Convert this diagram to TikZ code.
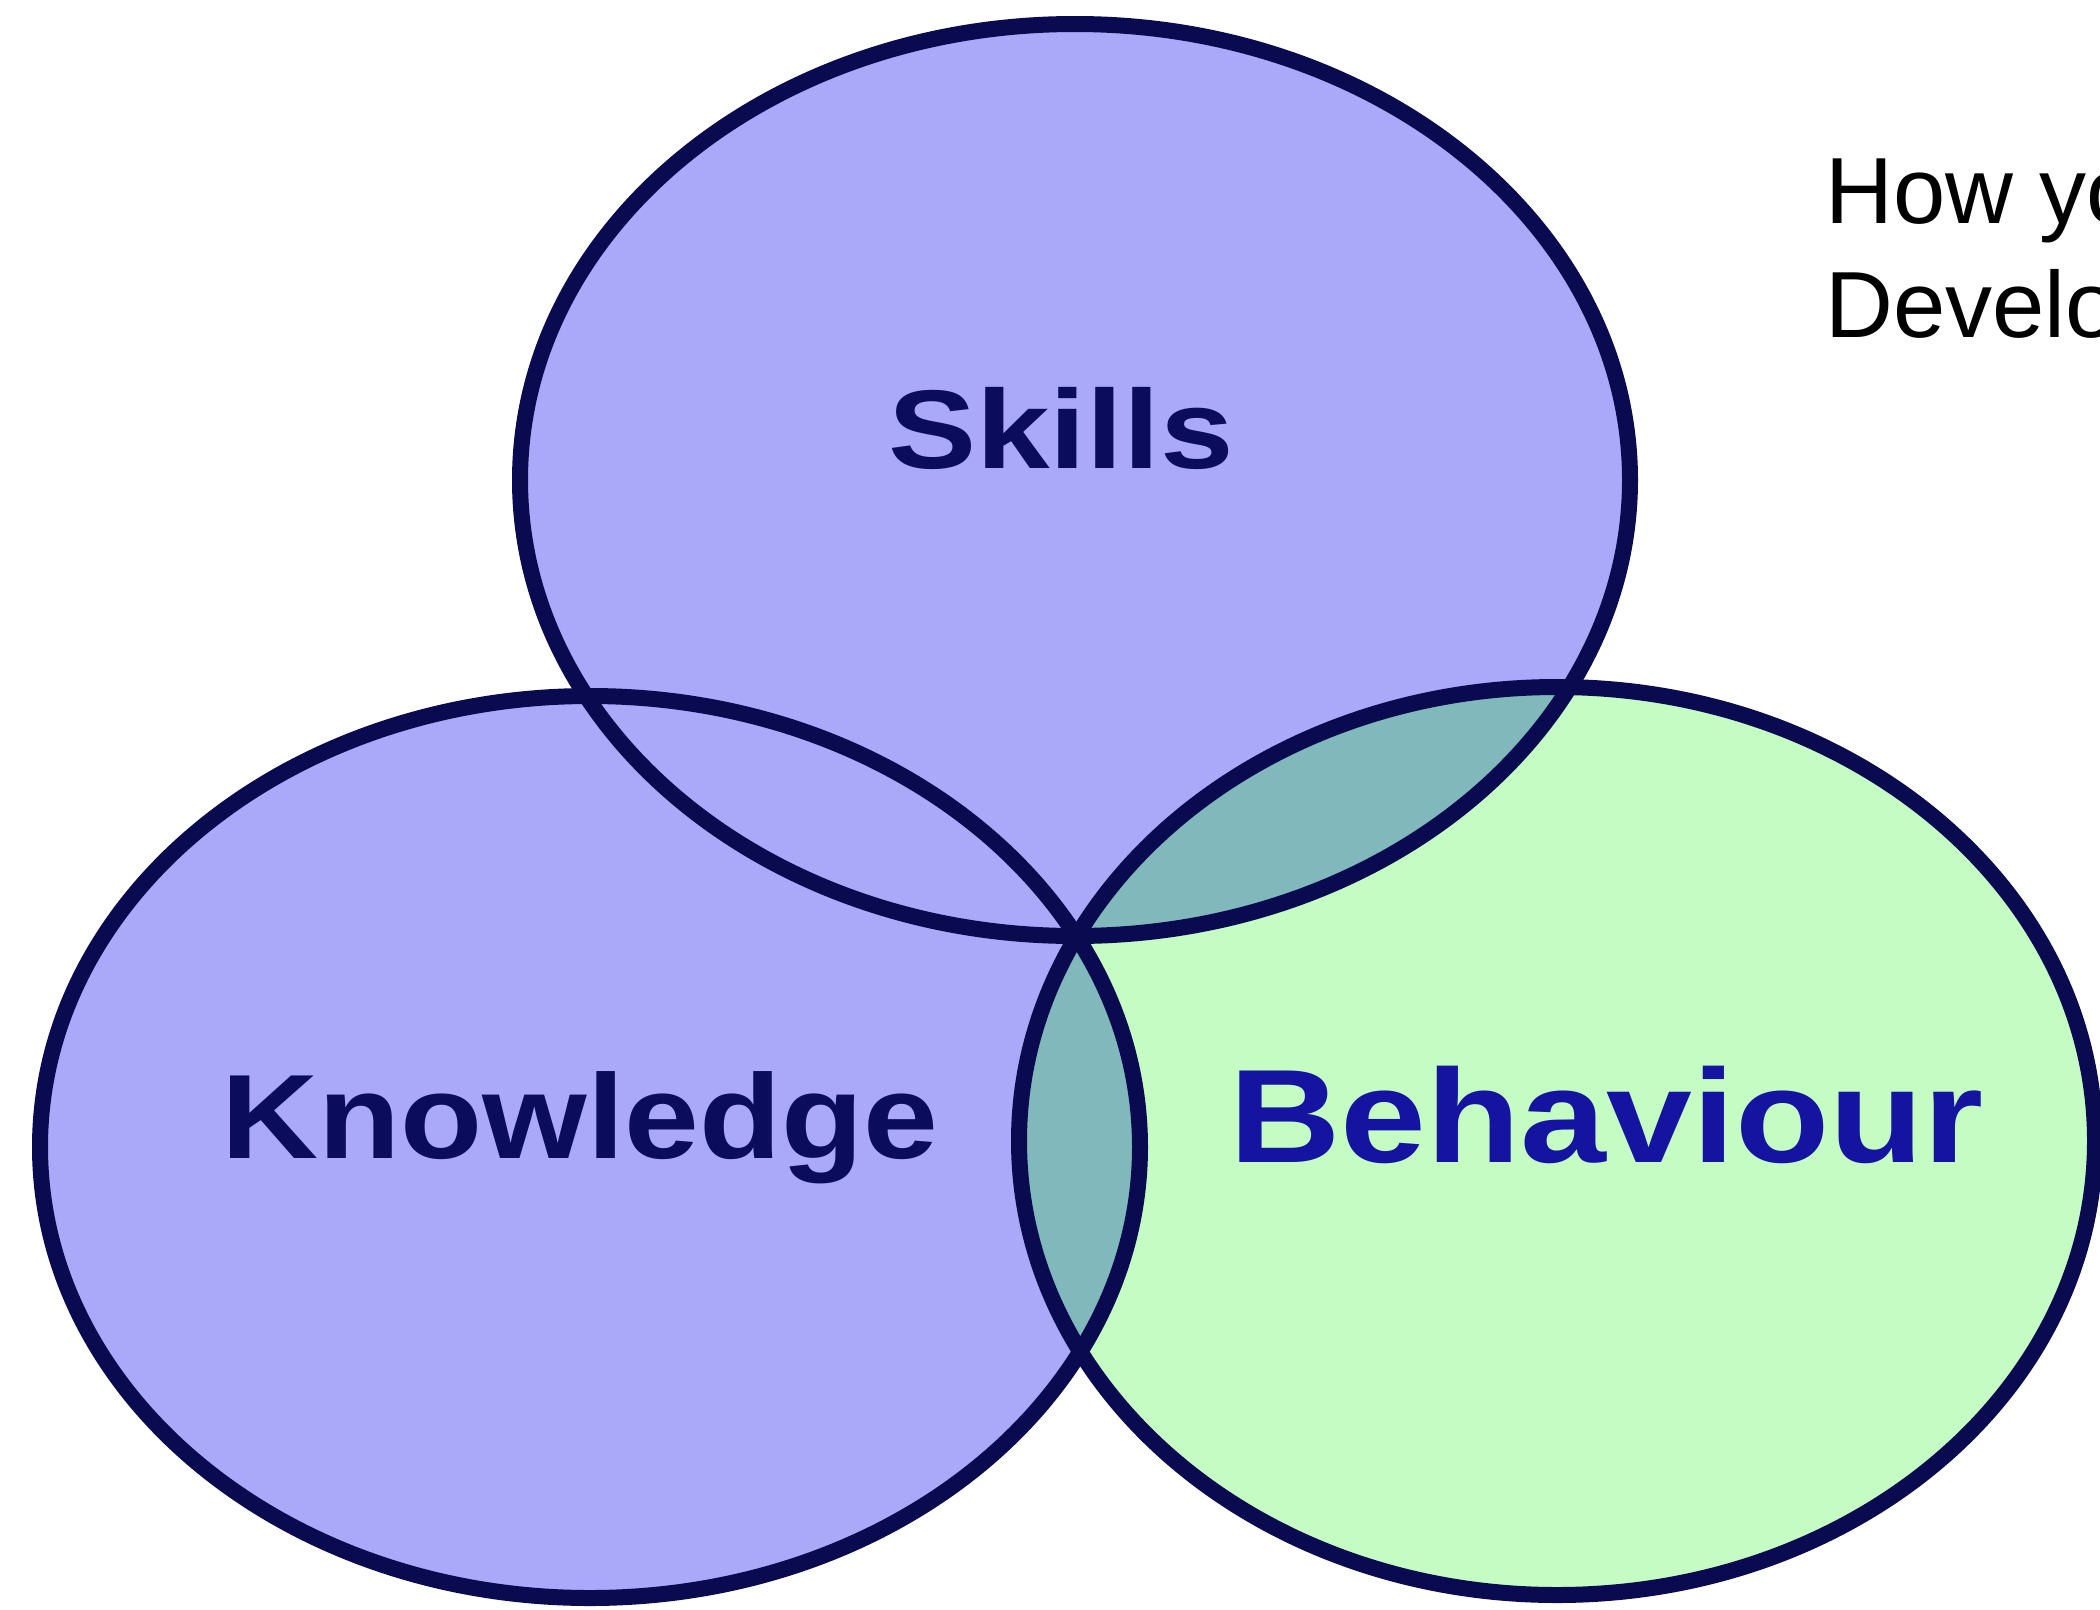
\documentclass[tikz,border=0pt]{standalone}
\usepackage{fontspec}
\setmainfont{Liberation Sans}
\definecolor{purp}{HTML}{AAA8F8}
\definecolor{lgreen}{HTML}{C4FCC4}
\definecolor{tealmix}{HTML}{80B8BC}
\definecolor{outl}{HTML}{0A0A50}
\definecolor{navytext}{HTML}{0C0C5C}
\definecolor{bluetext}{HTML}{1414A0}
\begin{document}
\begin{tikzpicture}[x=1pt,y=-1pt,
  outline/.style={draw=outl, line width=16pt},
  vlabel/.style={inner sep=0pt, anchor=base west},
  titletext/.style={inner sep=0pt, anchor=base west, text=black, font={\fontsize{94}{110}\selectfont}}]
\useasboundingbox (0,0) rectangle (2100,1609);
\clip (0,0) rectangle (2100,1609);
\fill[white] (0,0) rectangle (2100,1609);
% fills
\fill[purp] (1075,480) ellipse [x radius=555, y radius=456];
\fill[purp] (590,1147) ellipse [x radius=550, y radius=451];
\fill[lgreen] (1557,1141) ellipse [x radius=538, y radius=454];
\begin{scope}
  \clip (1557,1141) ellipse [x radius=538, y radius=454];
  \fill[tealmix] (1075,480) ellipse [x radius=555, y radius=456];
  \fill[tealmix] (590,1147) ellipse [x radius=550, y radius=451];
\end{scope}
% outlines
\draw[outline] (1075,480) ellipse [x radius=555, y radius=456];
\draw[outline] (590,1147) ellipse [x radius=550, y radius=451];
\draw[outline] (1557,1141) ellipse [x radius=538, y radius=454];
% labels
\node[vlabel, xscale=1.18, text=navytext, font={\fontsize{112}{112}\selectfont\bfseries}] (skills) at (888,468) {Skills};
\node[vlabel, xscale=1.12, text=navytext, font={\fontsize{120}{120}\selectfont\bfseries}] (knowledge) at (221,1158) {Knowledge};
\node[vlabel, xscale=1.16, text=bluetext, font={\fontsize{133}{133}\selectfont\bfseries}] (behaviour) at (1229,1162) {Behaviour};
\node[titletext] (title1) at (1825,223) {How yo};
\node[titletext] (title2) at (1825,337) {Develo};
\end{tikzpicture}
\end{document}
